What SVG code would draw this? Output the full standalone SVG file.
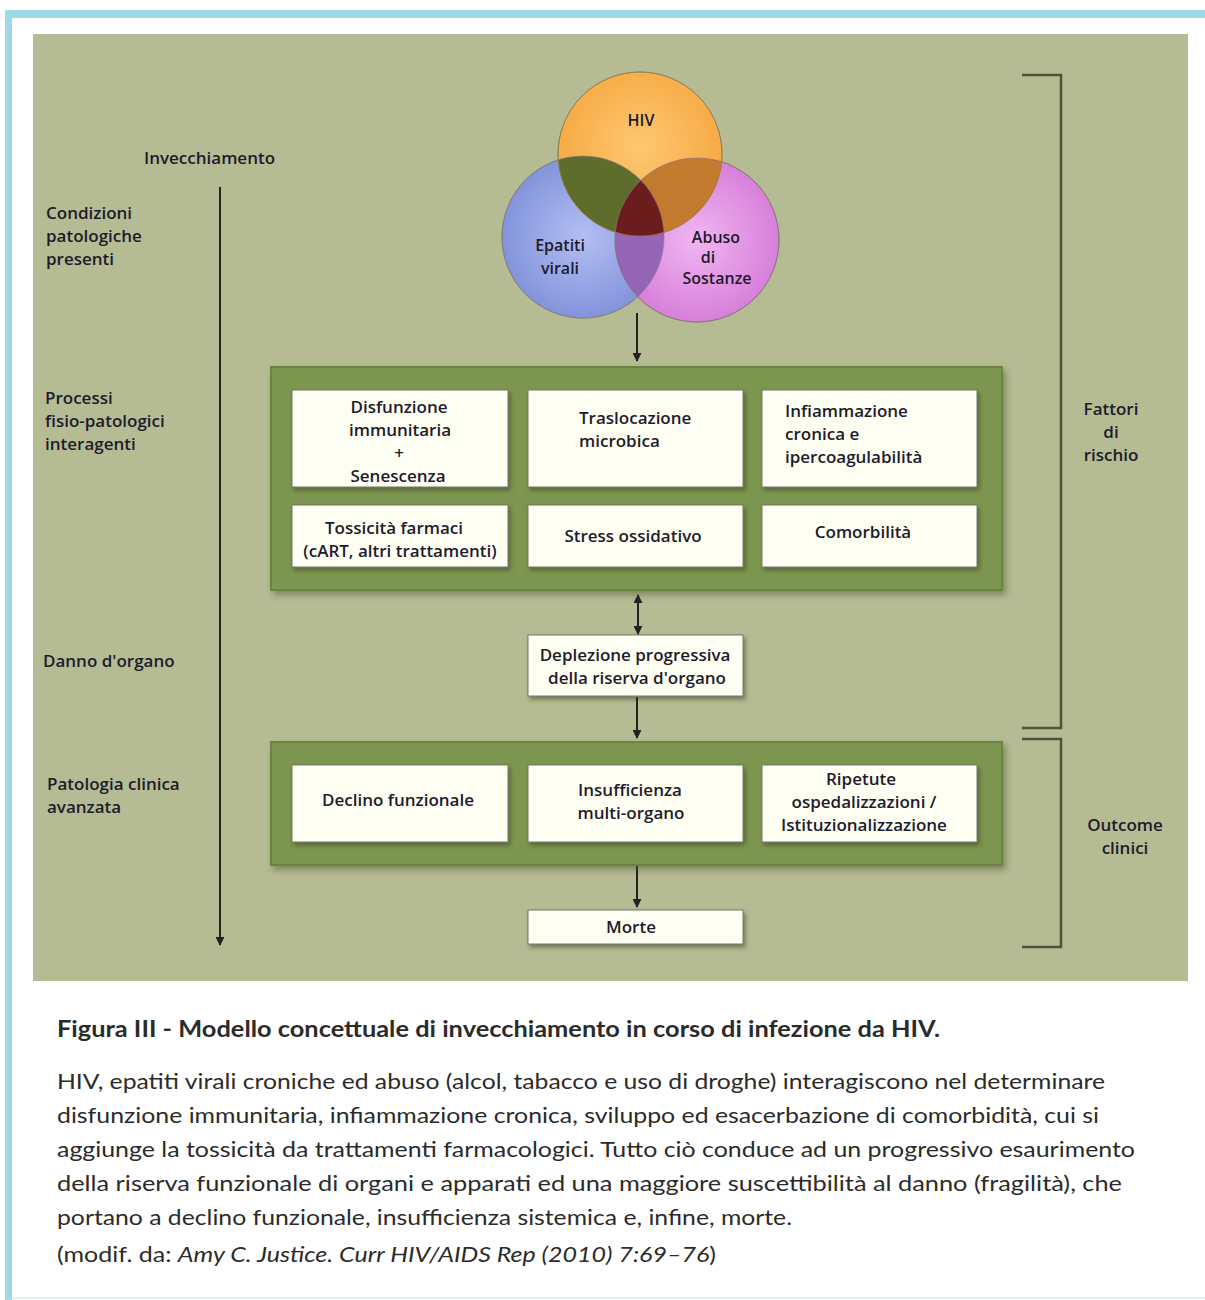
<svg xmlns="http://www.w3.org/2000/svg" width="1205" height="1300" viewBox="0 0 1205 1300">
<defs>
<style>
.t{font-family:"Open Sans","Noto Sans","Liberation Sans",sans-serif;font-weight:600;font-size:17px;fill:#1d1b2c}
.v{font-size:16px}
.m{text-anchor:middle}
.box{fill:#fffef3;stroke:#77776a;stroke-width:1;filter:url(#sh)}
.panel{fill:#7c9650;stroke:#6a8343;stroke-width:2;filter:url(#sh2)}
.ln{stroke:#222;stroke-width:2;fill:none}
.br{stroke:#4f5439;stroke-width:2.5;fill:none}
.cap{font-family:Lato,"Open Sans","Liberation Sans",sans-serif;fill:#2b2b2b}
.vc{stroke:#8a8a70;stroke-width:1}
</style>
<filter id="sh" x="-10%" y="-10%" width="130%" height="140%">
<feDropShadow dx="2" dy="3" stdDeviation="2" flood-color="#3a4020" flood-opacity="0.55"/>
</filter>
<filter id="sh2" x="-5%" y="-10%" width="115%" height="130%">
<feDropShadow dx="3" dy="4" stdDeviation="3" flood-color="#4a5030" flood-opacity="0.5"/>
</filter>
<marker id="ah" viewBox="0 0 10 10" refX="9" refY="5" markerWidth="9" markerHeight="9" markerUnits="userSpaceOnUse" orient="auto-start-reverse">
<path d="M0,0 L10,5 L0,10 z" fill="#222"/>
</marker>
<radialGradient id="gO" cx="50%" cy="45%" r="55%"><stop offset="0" stop-color="#fdc872"/><stop offset="1" stop-color="#f6a840"/></radialGradient>
<radialGradient id="gB" cx="50%" cy="50%" r="55%"><stop offset="0" stop-color="#b3bef2"/><stop offset="1" stop-color="#7f90da"/></radialGradient>
<radialGradient id="gP" cx="50%" cy="50%" r="55%"><stop offset="0" stop-color="#f0b6f0"/><stop offset="1" stop-color="#d57ad8"/></radialGradient>
<clipPath id="cH"><circle cx="640" cy="154" r="82"/></clipPath>
<clipPath id="cE"><circle cx="583" cy="237" r="81"/></clipPath>
</defs>

<rect x="0" y="0" width="1205" height="1300" fill="#ffffff"/>
<g id="frame">
<rect x="5" y="10" width="1200" height="8" fill="#9fd8e8"/>
<rect x="5" y="10" width="7" height="1290" fill="#9fd8e8"/>
<rect x="12" y="1297" width="1193" height="2" fill="#e2f2f7"/>
<rect x="33" y="34" width="1155" height="947" fill="#b5bb93"/>
</g>

<g id="venn">
<circle class="vc" cx="583" cy="237" r="81" fill="url(#gB)"/>
<circle class="vc" cx="697" cy="240" r="82" fill="url(#gP)"/>
<circle class="vc" cx="640" cy="154" r="82" fill="url(#gO)"/>
<circle cx="583" cy="237" r="81" fill="#5e6d2c" clip-path="url(#cH)"/>
<circle cx="697" cy="240" r="82" fill="#c27b2e" clip-path="url(#cH)"/>
<circle cx="697" cy="240" r="82" fill="#9664b4" clip-path="url(#cE)"/>
<g clip-path="url(#cH)"><circle cx="697" cy="240" r="82" fill="#6b1d1d" clip-path="url(#cE)"/></g>
<circle cx="583" cy="237" r="81" fill="none" stroke="#7a7a90" stroke-width="1" opacity="0.6"/>
<circle cx="697" cy="240" r="82" fill="none" stroke="#8a6a8a" stroke-width="1" opacity="0.6"/>
<circle cx="640" cy="154" r="82" fill="none" stroke="#a07a40" stroke-width="1" opacity="0.6"/>
<text class="t v m" x="641" y="126">HIV</text>
<text class="t v m" x="560" y="251">Epatiti</text>
<text class="t v m" x="560" y="274">virali</text>
<text class="t v m" x="716" y="243">Abuso</text>
<text class="t v m" x="708" y="263">di</text>
<text class="t v m" x="717" y="284">Sostanze</text>
</g>

<g id="labels-left">
<text class="t" x="144" y="164">Invecchiamento</text>
<text class="t" x="46" y="219">Condizioni</text>
<text class="t" x="46" y="242">patologiche</text>
<text class="t" x="46" y="265">presenti</text>
<text class="t" x="45" y="404">Processi</text>
<text class="t" x="45" y="427">fisio-patologici</text>
<text class="t" x="45" y="450">interagenti</text>
<text class="t" x="43" y="667">Danno d'organo</text>
<text class="t" x="47" y="790">Patologia clinica</text>
<text class="t" x="47" y="813">avanzata</text>
</g>

<g id="labels-right">
<text class="t m" x="1111" y="415">Fattori</text>
<text class="t m" x="1111" y="438">di</text>
<text class="t m" x="1111" y="461">rischio</text>
<text class="t m" x="1125" y="831">Outcome</text>
<text class="t m" x="1125" y="854">clinici</text>
</g>

<g id="connectors">
<line class="ln" x1="220" y1="187" x2="220" y2="945" marker-end="url(#ah)"/>
<line class="ln" x1="637" y1="313" x2="637" y2="361" marker-end="url(#ah)"/>
<line class="ln" x1="638" y1="595" x2="638" y2="634" marker-start="url(#ah)" marker-end="url(#ah)"/>
<line class="ln" x1="637" y1="697" x2="637" y2="738" marker-end="url(#ah)"/>
<line class="ln" x1="637" y1="866" x2="637" y2="907" marker-end="url(#ah)"/>
<path class="br" d="M1022,75 H1061 V728 H1022"/>
<path class="br" d="M1022,739 H1061 V947 H1022"/>
</g>

<g id="panel-processi">
<rect class="panel" x="271" y="367" width="731" height="223"/>
</g>
<g id="n-disfunzione">
<rect class="box" x="292" y="390" width="216" height="97"/>
<text class="t m" x="399" y="413">Disfunzione</text>
<text class="t m" x="400" y="436">immunitaria</text>
<text class="t m" x="399" y="459">+</text>
<text class="t m" x="398" y="482">Senescenza</text>
</g>
<g id="n-traslocazione">
<rect class="box" x="528" y="390" width="215" height="97"/>
<text class="t" x="579" y="424">Traslocazione</text>
<text class="t" x="579" y="447">microbica</text>
</g>
<g id="n-infiammazione">
<rect class="box" x="762" y="390" width="215" height="97"/>
<text class="t" x="785" y="417">Infiammazione</text>
<text class="t" x="785" y="440">cronica e</text>
<text class="t" x="785" y="463">ipercoagulabilità</text>
</g>
<g id="n-tossicita">
<rect class="box" x="292" y="505" width="216" height="62"/>
<text class="t m" x="394" y="534">Tossicità farmaci</text>
<text class="t m" x="400" y="557">(cART, altri trattamenti)</text>
</g>
<g id="n-stress">
<rect class="box" x="528" y="505" width="215" height="62"/>
<text class="t m" x="633" y="542">Stress ossidativo</text>
</g>
<g id="n-comorbilita">
<rect class="box" x="762" y="505" width="215" height="62"/>
<text class="t m" x="863" y="538">Comorbilità</text>
</g>

<g id="n-deplezione">
<rect class="box" x="528" y="635" width="215" height="61"/>
<text class="t m" x="635" y="661">Deplezione progressiva</text>
<text class="t m" x="637" y="684">della riserva d'organo</text>
</g>

<g id="panel-outcome">
<rect class="panel" x="271" y="742" width="731" height="123"/>
</g>
<g id="n-declino">
<rect class="box" x="292" y="765" width="216" height="77"/>
<text class="t m" x="398" y="806">Declino funzionale</text>
</g>
<g id="n-insufficienza">
<rect class="box" x="528" y="765" width="215" height="77"/>
<text class="t m" x="630" y="796">Insufficienza</text>
<text class="t m" x="631" y="819">multi-organo</text>
</g>
<g id="n-ripetute">
<rect class="box" x="762" y="765" width="215" height="77"/>
<text class="t m" x="861" y="785">Ripetute</text>
<text class="t m" x="864" y="808">ospedalizzazioni /</text>
<text class="t m" x="864" y="831">Istituzionalizzazione</text>
</g>
<g id="n-morte">
<rect class="box" x="528" y="910" width="215" height="34"/>
<text class="t m" x="631" y="933">Morte</text>
</g>

<g id="caption">
<text class="cap" x="57" y="1037" font-size="22" font-weight="bold" fill="#1e1e1e" textLength="883" lengthAdjust="spacingAndGlyphs">Figura III - Modello concettuale di invecchiamento in corso di infezione da HIV.</text>
<text class="cap" x="57" y="1089" font-size="21" textLength="1048" lengthAdjust="spacingAndGlyphs">HIV, epatiti virali croniche ed abuso (alcol, tabacco e uso di droghe) interagiscono nel determinare</text>
<text class="cap" x="57" y="1123" font-size="21" textLength="1042" lengthAdjust="spacingAndGlyphs">disfunzione immunitaria, infiammazione cronica, sviluppo ed esacerbazione di comorbidità, cui si</text>
<text class="cap" x="57" y="1157" font-size="21" textLength="1078" lengthAdjust="spacingAndGlyphs">aggiunge la tossicità da trattamenti farmacologici. Tutto ciò conduce ad un progressivo esaurimento</text>
<text class="cap" x="57" y="1191" font-size="21" textLength="1065" lengthAdjust="spacingAndGlyphs">della riserva funzionale di organi e apparati ed una maggiore suscettibilità al danno (fragilità), che</text>
<text class="cap" x="57" y="1225" font-size="21" textLength="735" lengthAdjust="spacingAndGlyphs">portano a declino funzionale, insufficienza sistemica e, infine, morte.</text>
<text class="cap" x="57" y="1262" font-size="21" textLength="659" lengthAdjust="spacingAndGlyphs">(modif. da: <tspan font-style="italic">Amy C. Justice. Curr HIV/AIDS Rep (2010) 7:69–76</tspan>)</text>
</g>
</svg>
